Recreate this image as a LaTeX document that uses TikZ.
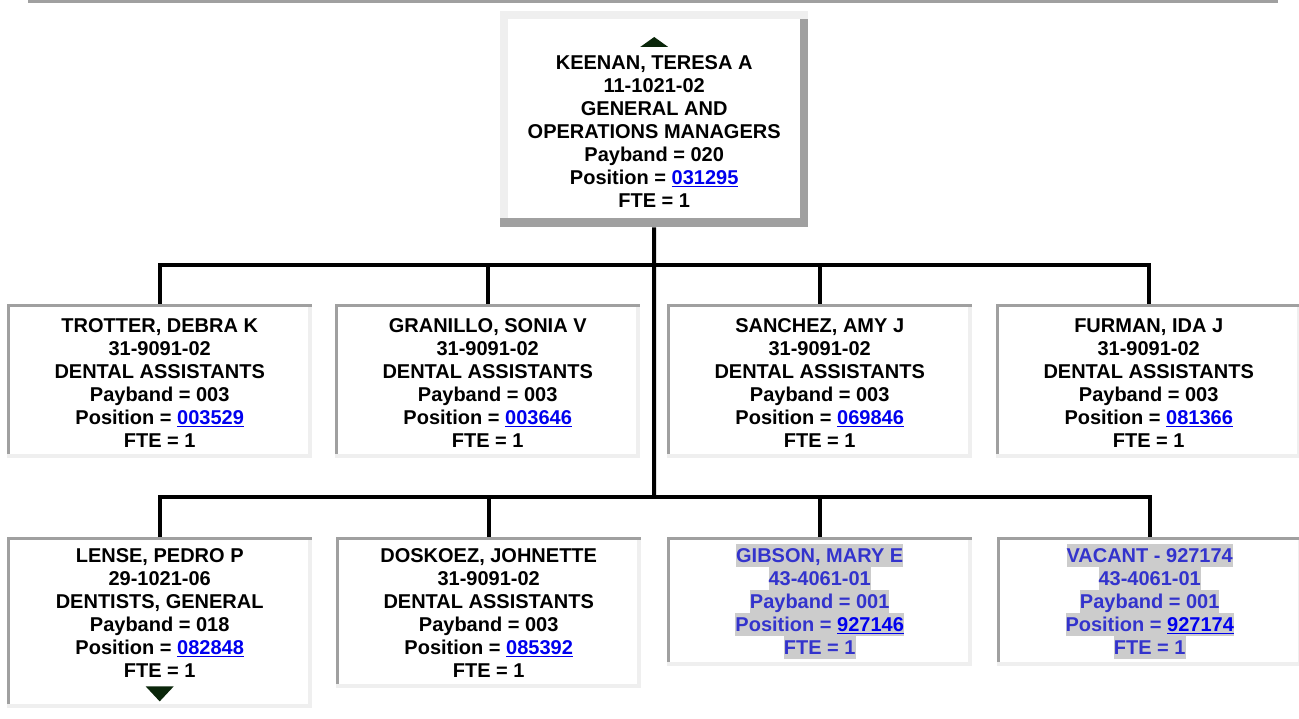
\documentclass[tikz,border=0pt]{standalone}
\usepackage{fontspec}
\setmainfont{Liberation Sans}
\usetikzlibrary{positioning}

\definecolor{edgedark}{HTML}{A0A0A0}
\definecolor{edgelight}{HTML}{EFEFEF}
\definecolor{linkblue}{HTML}{0000EE}
\definecolor{vacantblue}{HTML}{3333CC}
\definecolor{hlgray}{HTML}{CCCCCC}
\definecolor{marker}{HTML}{0A260A}

\newcommand{\rowstrut}{\rule[-4.34pt]{0pt}{23pt}}
\newcommand{\poslink}[1]{{\color{linkblue}\setbox0\hbox{#1}\rlap{\rule[-3pt]{\wd0}{1.8pt}}\box0}}
\newcommand{\hlrow}[1]{{\setlength{\fboxsep}{0pt}\colorbox{hlgray}{\rowstrut#1}}}

\tikzset{
  orgline/.style={draw=black, line width=4pt},
  mgrbox/.style={rectangle, anchor=north west, inner sep=0pt, fill=white,
    minimum width=308pt, minimum height=216pt,
    path picture={
      \fill[edgelight] (path picture bounding box.north west) rectangle ([yshift=-8pt]path picture bounding box.north east);
      \fill[edgelight] (path picture bounding box.north west) rectangle ([xshift=8pt,yshift=9pt]path picture bounding box.south west);
      \fill[edgedark] (path picture bounding box.south west) rectangle ([yshift=9pt]path picture bounding box.south east);
      \fill[edgedark] (path picture bounding box.south east) rectangle ([xshift=-8pt,yshift=-8pt]path picture bounding box.north east);
    }},
  staffbox/.style={rectangle, anchor=north west, inner sep=0pt, fill=white,
    minimum width=305pt,
    path picture={
      \fill[edgelight] (path picture bounding box.south west) rectangle ([yshift=4pt]path picture bounding box.south east);
      \fill[edgelight] (path picture bounding box.south east) rectangle ([xshift=-4pt]path picture bounding box.north east);
      \fill[edgedark] (path picture bounding box.north west) rectangle ([xshift=3pt,yshift=4pt]path picture bounding box.south west);
      \fill[edgedark] (path picture bounding box.north west) rectangle ([yshift=-3pt]path picture bounding box.north east);
    }},
  stafftext/.style={inner sep=0pt, align=center,
    font=\fontsize{20pt}{23pt}\selectfont\bfseries},
  vacanttext/.style={stafftext, text=vacantblue}
}

\begin{document}
\begin{tikzpicture}[x=1pt, y=-1pt]
  \useasboundingbox (0,0) rectangle (1299,719);
  \fill[edgedark] (28,0) rectangle (1278,3);

  % manager
  \node[mgrbox] (keenan) at (500,11) {};
  \node[stafftext, below=39.5pt of keenan.north] (keenan-txt) {\rowstrut KEENAN, TERESA A\\ 11-1021-02\\ GENERAL AND\\ OPERATIONS MANAGERS\\ Payband = 020\\ Position = \poslink{031295}\\ FTE = 1\rowstrut};
  \fill[marker] ([yshift=3.5pt]keenan-txt.north) ++(-14,0) -- ++(28,0) -- ++(-14,-10) -- cycle;

  % first row
  \node[staffbox, minimum height=154pt] (trotter) at (7,304) {};
  \node[staffbox, minimum height=154pt] (granillo) at (335,304) {};
  \node[staffbox, minimum height=154pt] (sanchez) at (667,304) {};
  \node[staffbox, minimum height=154pt] (furman) at (996,304) {};

  \node[stafftext, below=9.5pt of trotter.north] (trotter-txt) {\rowstrut TROTTER, DEBRA K\\ 31-9091-02\\ DENTAL ASSISTANTS\\ Payband = 003\\ Position = \poslink{003529}\\ FTE = 1\rowstrut};
  \node[stafftext, below=9.5pt of granillo.north] (granillo-txt) {\rowstrut GRANILLO, SONIA V\\ 31-9091-02\\ DENTAL ASSISTANTS\\ Payband = 003\\ Position = \poslink{003646}\\ FTE = 1\rowstrut};
  \node[stafftext, below=9.5pt of sanchez.north] (sanchez-txt) {\rowstrut SANCHEZ, AMY J\\ 31-9091-02\\ DENTAL ASSISTANTS\\ Payband = 003\\ Position = \poslink{069846}\\ FTE = 1\rowstrut};
  \node[stafftext, below=9.5pt of furman.north] (furman-txt) {\rowstrut FURMAN, IDA J\\ 31-9091-02\\ DENTAL ASSISTANTS\\ Payband = 003\\ Position = \poslink{081366}\\ FTE = 1\rowstrut};

  % second row
  \node[staffbox, minimum height=171pt] (lense) at (7,537) {};
  \node[staffbox, minimum height=151pt] (doskoez) at (336,537) {};
  \node[staffbox, minimum height=129pt] (gibson) at (667,537) {};
  \node[staffbox, minimum height=129pt] (vacant) at (997,537) {};

  \node[stafftext, below=6.5pt of lense.north] (lense-txt) {\rowstrut LENSE, PEDRO P\\ 29-1021-06\\ DENTISTS, GENERAL\\ Payband = 018\\ Position = \poslink{082848}\\ FTE = 1\rowstrut};
  \fill[marker] ([yshift=-4.5pt]lense-txt.south) ++(-14,0) -- ++(28,0) -- ++(-14,15) -- cycle;
  \node[stafftext, below=6.5pt of doskoez.north] (doskoez-txt) {\rowstrut DOSKOEZ, JOHNETTE\\ 31-9091-02\\ DENTAL ASSISTANTS\\ Payband = 003\\ Position = \poslink{085392}\\ FTE = 1\rowstrut};
  \node[vacanttext, below=6.5pt of gibson.north] (gibson-txt) {\hlrow{GIBSON, MARY E}\\ \hlrow{43-4061-01}\\ \hlrow{Payband = 001}\\ \hlrow{Position = \poslink{927146}}\\ \hlrow{FTE = 1}};
  \node[vacanttext, below=6.5pt of vacant.north] (vacant-txt) {\hlrow{VACANT - 927174}\\ \hlrow{43-4061-01}\\ \hlrow{Payband = 001}\\ \hlrow{Position = \poslink{927174}}\\ \hlrow{FTE = 1}};

  % connectors
  \coordinate (busA) at (654,265);
  \coordinate (busB) at (654,497);
  \draw[orgline] (keenan.south) -- (busB);
  \draw[orgline] (trotter.north) |- (busA);
  \draw[orgline] (granillo.north) |- (busA);
  \draw[orgline] (sanchez.north) |- (busA);
  \draw[orgline] (furman.north) |- (busA);
  \draw[orgline] (lense.north) |- (busB);
  \draw[orgline] (doskoez.north) |- (busB);
  \draw[orgline] (gibson.north) |- (busB);
  \draw[orgline] (vacant.north) |- (busB);
\end{tikzpicture}
\end{document}
